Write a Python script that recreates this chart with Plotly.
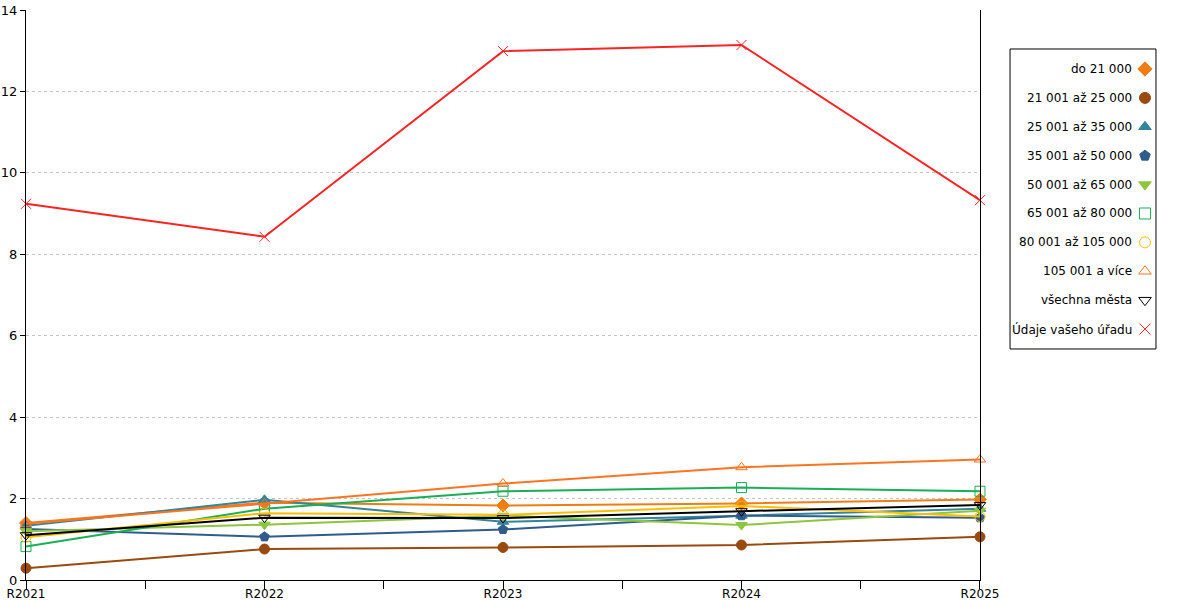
import plotly.graph_objects as go

# Data
years = ["R2021", "R2022", "R2023", "R2024", "R2025"]

do_21000 = [1.40, 1.90, 1.83, 1.88, 1.98]
s21001_25000 = [0.29, 0.76, 0.80, 0.86, 1.06]
s25001_35000 = [1.33, 1.97, 1.43, 1.58, 1.75]
s35001_50000 = [1.25, 1.06, 1.24, 1.58, 1.53]
s50001_65000 = [1.20, 1.36, 1.58, 1.35, 1.70]
s65001_80000 = [0.82, 1.75, 2.18, 2.27, 2.18]
s80001_105000 = [1.05, 1.64, 1.60, 1.82, 1.56]
s105001_plus = [1.38, 1.88, 2.37, 2.77, 2.96]
vsechna_mesta = [1.10, 1.53, 1.52, 1.69, 1.84]
udaje_uradu = [9.24, 8.43, 12.99, 13.14, 9.33]

names = ["do 21 000", "21 001 až 25 000", "25 001 až 35 000", "35 001 až 50 000",
         "50 001 až 65 000", "65 001 až 80 000", "80 001 až 105 000",
         "105 001 a více", "všechna města", "Údaje vašeho úřadu"]
values = [do_21000, s21001_25000, s25001_35000, s35001_50000, s50001_65000,
          s65001_80000, s80001_105000, s105001_plus, vsechna_mesta, udaje_uradu]
colors = ["#ef7d14", "#9a4a0e", "#31869b", "#2f5b8d", "#8cc63e",
          "#1aae55", "#ffbf00", "#ff7420", "#000000", "#ff2222"]
symbols = ["diamond", "circle", "triangle-up", "pentagon", "triangle-down",
           "square-open", "circle-open", "triangle-up-open", "triangle-down-open", "x-thin-open"]

FONT = "DejaVu Sans"
x_idx = list(range(len(years)))

fig = go.Figure()
for name, vals, col, sym in zip(names, values, colors, symbols):
    fig.add_trace(go.Scatter(
        x=x_idx, y=vals, name=name, mode="lines+markers",
        line=dict(color=col, width=2),
        marker=dict(symbol=sym, size=10, color=col, line=dict(color=col, width=1)),
        cliponaxis=False, showlegend=False,
    ))

# hand-made legend: text on the left, symbol on the right
row_y = [20 + i * 28.9 for i in range(len(names))]
fig.add_trace(go.Scatter(
    x=[135] * len(names), y=row_y, mode="markers", xaxis="x2", yaxis="y2",
    marker=dict(symbol=symbols, size=11, color=colors, line=dict(color=colors, width=1)),
    showlegend=False, hoverinfo="skip", cliponaxis=False,
))
for name, yy in zip(names, row_y):
    fig.add_annotation(x=124, y=yy, xref="x2", yref="y2", text=name, showarrow=False,
                       xanchor="right", yanchor="middle", font=dict(family=FONT, size=12, color="#000"))
fig.add_shape(type="rect", xref="x2 domain", yref="y2 domain", x0=0, x1=1, y0=0, y1=1,
              line=dict(color="#000", width=1))

fig.update_layout(
    width=1200, height=600,
    margin=dict(l=26, r=0, t=10, b=20),
    paper_bgcolor="white", plot_bgcolor="white",
    font=dict(family=FONT, size=12, color="#000"),
    xaxis=dict(domain=[0, 0.8126], range=[0, len(years) - 1], tickvals=x_idx, ticktext=years,
               showgrid=False, zeroline=False, showline=True, linecolor="#000", linewidth=1,
               ticks="outside", ticklen=3, tickcolor="#000", tickfont=dict(size=12), automargin=False,
               minor=dict(ticks="outside", ticklen=8, tickcolor="#000", dtick=0.5, tick0=0, showgrid=False)),
    yaxis=dict(range=[0, 14], dtick=2, showgrid=True, gridcolor="#c4c4c4", griddash="dot",
               zeroline=False, showline=True, linecolor="#000", linewidth=1, mirror=True,
               ticks="outside", ticklen=5, tickcolor="#000", tickfont=dict(size=13), automargin=False),
    xaxis2=dict(domain=[0.8382, 0.9625], range=[0, 146], visible=False, anchor="y2"),
    yaxis2=dict(domain=[0.4053, 0.9316], range=[300, 0], visible=False, anchor="x2"),
)

# drop the page's default 8px body margin so the figure sits at the top-left corner
fig.write_html("out.html", config={"displayModeBar": False},
               post_script="document.body.style.margin='0';")
